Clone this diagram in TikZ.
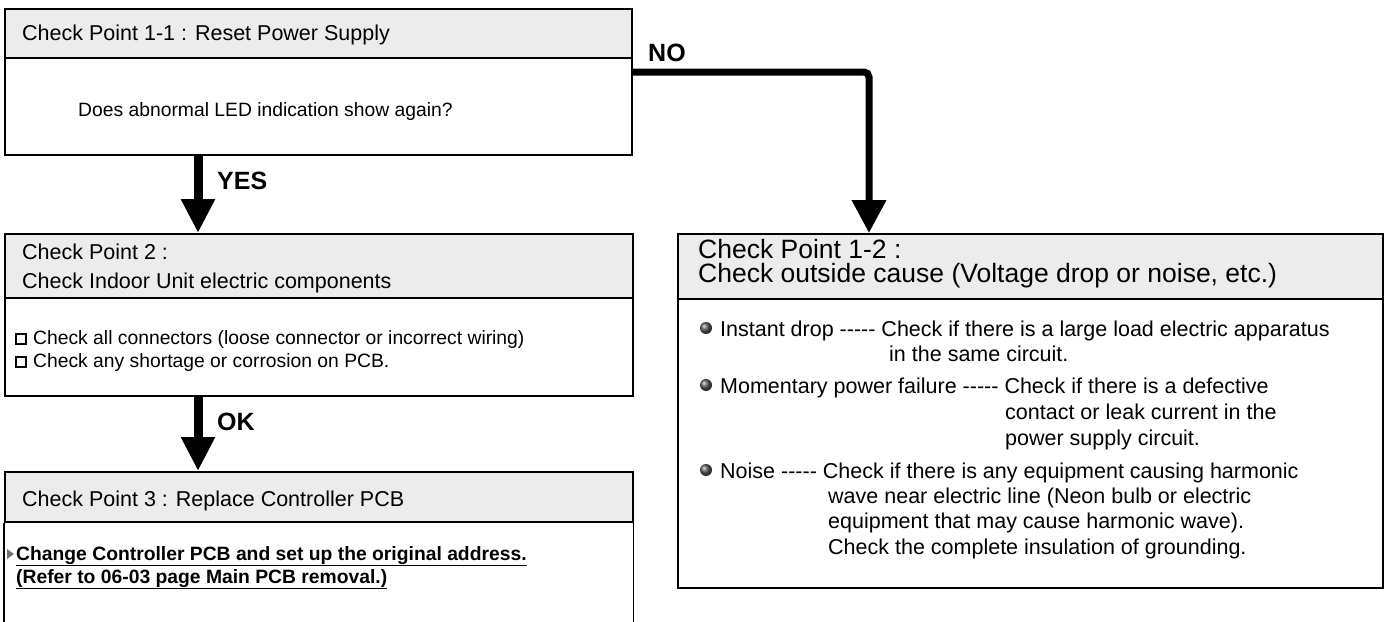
\documentclass[tikz,border=0pt]{standalone}
\usepackage{fontspec}
\setmainfont{Liberation Sans}
\usetikzlibrary{arrows.meta,positioning}
\definecolor{hdrgray}{RGB}{236,236,236}
\newcommand\dashrun{-\kern0pt-\kern0pt-\kern0pt-\kern0pt-}
\tikzset{
  box/.style={draw, line width=1.6pt, anchor=north west, inner sep=0pt},
  hdr/.style={box, fill=hdrgray},
  flow/.style={line width=9pt, -{Triangle[length=34pt,width=32pt]}},
  lbl/.style={anchor=base west, inner sep=0pt, font=\fontsize{25}{30}\selectfont\bfseries},
  txt/.style={anchor=base west, inner sep=0pt, font=\fontsize{19.3}{23}\selectfont},
  rtxt/.style={anchor=base west, inner sep=0pt, font=\fontsize{21.5}{26}\selectfont},
  htxt/.style={anchor=base west, inner sep=0pt, font=\fontsize{21.5}{26}\selectfont},
  hbig/.style={anchor=base west, inner sep=0pt, font=\fontsize{26.5}{31}\selectfont},
  chk/.style={draw, line width=2.2pt, minimum size=10pt, inner sep=0pt},
  dot/.style={circle, ball color=black!65, minimum size=12pt, inner sep=0pt},
}
\begin{document}
\begin{tikzpicture}[x=1pt,y=-1pt]
\useasboundingbox (0,0) rectangle (1389,621);

% Check Point 1-1
\node[hdr, minimum width=627pt, minimum height=49pt] (p11h) at (4,8) {};
\node[box, minimum width=627pt, minimum height=97pt] (p11) at (4,57) {};
\node[htxt] (p11t) at (22,40) {Check Point 1-1 : Reset Power Supply};
\node[txt] (p11q) at (78,116) {Does abnormal LED indication show again?};

% Check Point 2
\node[hdr, minimum width=628pt, minimum height=64pt] (p2h) at (4,233) {};
\node[box, minimum width=628pt, minimum height=98pt] (p2) at (4,297) {};
\node[htxt] (p2t) at (22,259) {Check Point 2 :};
\node[htxt] (p2s) at (22,288) {Check Indoor Unit electric components};
\node[chk] (c1) at (21,339) {};
\node[txt] (c1t) at (33,344) {Check all connectors (loose connector or incorrect wiring)};
\node[chk] (c2) at (21,362) {};
\node[txt] (c2t) at (33,367) {Check any shortage or corrosion on PCB.};

% Check Point 3 (runs off the bottom)
\node[hdr, minimum width=628pt, minimum height=50pt] (p3h) at (4,471) {};
\draw[line width=1.6pt] (p3h.south west) -- ++(0,104);
\draw[line width=1.6pt] (p3h.south east) -- ++(0,104);
\node[htxt] (p3t) at (22,506) {Check Point 3 : Replace Controller PCB};
\fill[black!55] (7,549) -- (14,554) -- (7,559) -- cycle;
\node[txt, font=\fontsize{19.3}{23}\selectfont\bfseries] (r1) at (16,560)
  {\underline{Change Controller PCB and set up the original address.}};
\node[txt, font=\fontsize{19.3}{23}\selectfont\bfseries] (r2) at (16,583)
  {\underline{(Refer to 06-03 page Main PCB removal.)}};

% Check Point 1-2
\node[hdr, minimum width=705pt, minimum height=65pt] (p12h) at (677,233) {};
\node[box, minimum width=705pt, minimum height=289pt] (p12) at (677,298) {};
\node[hbig] (p12t) at (698,258) {Check Point 1-2 :};
\node[hbig] (p12s) at (698,282) {Check outside cause (Voltage drop or noise, etc.)};
\node[dot] (d1) at (706,328) {};
\node[rtxt] (i1) at (720,336) {Instant drop \dashrun{} Check if there is a large load electric apparatus};
\node[rtxt] (i1b) at (889,361) {in the same circuit.};
\node[dot] (d2) at (706,385) {};
\node[rtxt] (i2) at (720,393) {Momentary power failure \dashrun{} Check if there is a defective};
\node[rtxt] (i2b) at (1005,419) {contact or leak current in the};
\node[rtxt] (i2c) at (1005,445) {power supply circuit.};
\node[dot] (d3) at (706,470) {};
\node[rtxt] (i3) at (720,478) {Noise \dashrun{} Check if there is any equipment causing harmonic};
\node[rtxt] (i3b) at (828,503) {wave near electric line (Neon bulb or electric};
\node[rtxt] (i3c) at (828,528) {equipment that may cause harmonic wave).};
\node[rtxt] (i3d) at (828,554) {Check the complete insulation of grounding.};

% connectors
\coordinate (nobend) at (869,72);
\draw[flow] ([xshift=194pt]p11.south west) -- ([xshift=194pt]p2h.north west);
\node[lbl] (yes) at (217,189) {YES};
\draw[flow] ([xshift=194pt]p2.south west) -- ([xshift=194pt]p3h.north west);
\node[lbl] (ok) at (217,430) {OK};
\draw[flow, line width=7pt, -{Triangle[length=33pt,width=33pt]}, rounded corners=5pt]
  (p11.east |- nobend) -- (nobend) -- (nobend |- p12h.north);
\node[lbl] (no) at (648,61) {NO};
\end{tikzpicture}
\end{document}
